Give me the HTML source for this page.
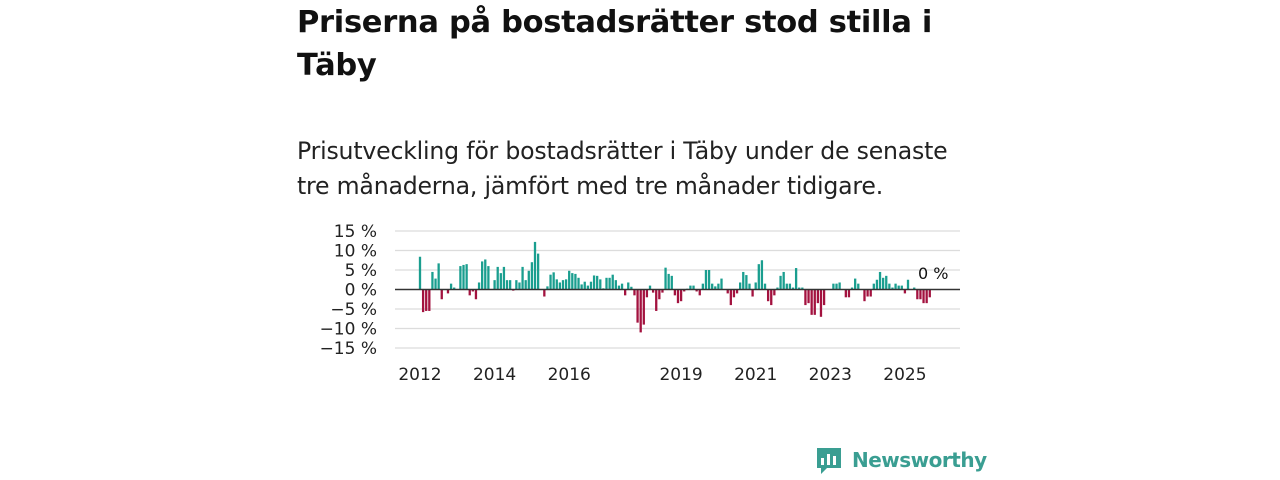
<!DOCTYPE html>
<html><head><meta charset="utf-8">
<style>
body{margin:0;width:1280px;height:480px;background:#fff;font-family:"Liberation Sans","DejaVu Sans",sans-serif;overflow:hidden;position:relative}
h1{position:absolute;left:297px;top:1px;margin:0;font-size:30.5px;line-height:43px;font-weight:bold;color:#111;width:680px;font-family:"DejaVu Sans","Liberation Sans",sans-serif;letter-spacing:-0.3px}
p.sub{position:absolute;left:297px;top:134px;margin:0;font-size:23.6px;line-height:35px;color:#222;width:680px;font-family:"DejaVu Sans","Liberation Sans",sans-serif;letter-spacing:-0.2px}
svg{position:absolute;left:0;top:0}
.logo{position:absolute;left:852px;top:448px;font-size:20px;color:#3a9e92;font-family:"DejaVu Sans","Liberation Sans",sans-serif;font-weight:bold;letter-spacing:-0.5px}
</style></head><body>
<h1>Priserna på bostadsrätter stod stilla i Täby</h1>
<p class="sub">Prisutveckling för bostadsrätter i Täby under de senaste tre månaderna, jämfört med tre månader tidigare.</p>
<svg id="chart" width="1280" height="480"></svg>
<svg width="1280" height="480"><path d="M817 448h24v20h-14l-6 6v-6h-4z" fill="#3a9e92"/><rect x="821" y="458" width="3" height="7" fill="#fff"/><rect x="827" y="454" width="3" height="11" fill="#fff"/><rect x="833" y="456" width="3" height="9" fill="#fff"/></svg>
<div class="logo">Newsworthy</div>
<script>
const startYear = 2012;
const values = [8.4,-5.8,-5.5,-5.5,4.5,2.8,6.7,-2.5,0,-1,1.5,0.5,0,6,6.3,6.5,-1.5,-0.5,-2.5,1.8,7.2,7.7,6,0,2.4,5.8,4.2,5.8,2.4,2.4,-0.3,2.4,1.8,5.8,2.4,4.8,7,12.2,9.2,0,-1.8,0.8,3.8,4.4,2.6,1.8,2.4,2.6,4.8,4.2,4,3,1.3,2,
1,2,3.6,3.5,2.6,0.3,3,3,3.8,2.4,1,1.5,-1.5,1.8,0.7,-1.5,-8.5,-11,-9,-2,1,-0.8,-5.5,-2.5,-0.8,5.6,4,3.5,-1.5,-3.5,-3,-0.5,0.2,1,1,-0.5,-1.5,1.5,5,5,1.5,0.8,1.5,2.8,0,-1,-4,-2,-1,1.8,4.5,3.7,1.5,-1.8,1.8,6.5,7.5,1.5,
-3,-4,-1.5,0.5,3.5,4.5,1.5,1.5,0.5,5.5,0.5,0.5,-4,-3.5,-6.5,-6.5,-3.5,-7,-4,0,0,1.5,1.5,1.8,0,-2,-2,0.5,2.8,1.5,0,-3,-1.8,-1.8,1.5,2.5,4.5,3,3.5,1.5,0.5,1.5,1,1,-1,2.5,0,0.5,-2.5,-2.5,-3.5,-3.5,-2];
const yTicks = [15,10,5,0,-5,-10,-15];
const yTickLabels = ["15 %","10 %","5 %","0 %","−5 %","−10 %","−15 %"];
const xTicks = [2012,2014,2016,2019,2021,2023,2025];
const lastLabel = "0 %";
const NS="http://www.w3.org/2000/svg";
const svg=document.getElementById('chart');
const x=t=>420+(t-2012)*37.3;
const y=v=>289.5-v*3.9;
function mk(tag,attrs){const e=document.createElementNS(NS,tag);for(const k in attrs)e.setAttribute(k,attrs[k]);svg.appendChild(e);return e;}
yTicks.forEach((v,i)=>{
  if(v!==0){const g=mk('line',{x1:395,x2:960,y1:y(v),y2:y(v),stroke:'#dcdcdc','stroke-width':1.3});
  
  }
  const t=mk('text',{x:377,y:y(v)+6,'text-anchor':'end','font-size':17,fill:'#222','font-family':'DejaVu Sans, Liberation Sans, sans-serif'});
  t.textContent=yTickLabels[i];
  
  
});
values.forEach((v,i)=>{
  const cx=x(startYear+i/12);
  const top=Math.min(y(v),y(0)), h=Math.abs(y(v)-y(0));
  const r=mk('rect',{x:cx-1.15,y:top,width:2.3,height:h,fill:v>=0?'#1a9e8f':'#a3123f'});
  
  
});
const z=mk('line',{x1:395,x2:960,y1:y(0),y2:y(0),stroke:'#333','stroke-width':1.6});


xTicks.forEach(yr=>{
  const t=mk('text',{x:x(yr),y:380,'text-anchor':'middle','font-size':17,fill:'#222','font-family':'DejaVu Sans, Liberation Sans, sans-serif'});
  t.textContent=yr;
  
  
});
const ll=mk('text',{x:918,y:279,'font-size':16,fill:'#111','font-family':'DejaVu Sans, Liberation Sans, sans-serif'});
ll.textContent=lastLabel;


</script>
</body></html>
